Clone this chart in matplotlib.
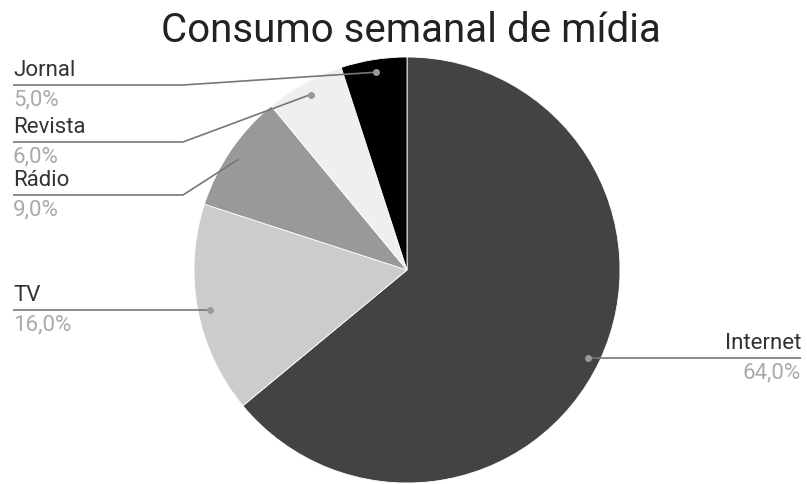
import numpy as np
import matplotlib.pyplot as plt

plt.rcParams['font.family'] = ['Roboto', 'DejaVu Sans']

labels = ["Internet", "TV", "Rádio", "Revista", "Jornal"]
values = [64.0, 16.0, 9.0, 6.0, 5.0]
colors = ["#434343", "#cccccc", "#999999", "#efefef", "#000000"]
title = "Consumo semanal de mídia"

W, H = 807, 484
fig = plt.figure(figsize=(W / 100, H / 100), dpi=100)
ax = fig.add_axes([0, 0, 1, 1])

cx, cy, R = 407, H - 270, 213
wedges, _ = ax.pie(values, colors=colors, startangle=90, counterclock=False,
                   center=(cx, cy), radius=R, frame=True,
                   wedgeprops=dict(edgecolor='white', linewidth=0.6))
ax.set_xlim(0, W)
ax.set_ylim(0, H)
ax.set_aspect('equal')
ax.axis('off')

# label anchor: x of text edge, y of underline (pixel, y down)
label_rows = {"Internet": (801, 358), "TV": (13, 310), "Rádio": (13, 195),
              "Revista": (13, 142), "Jornal": (13, 85)}
elbow_x = 183

total = sum(values)
cum = 0
for lab, v in zip(labels, values):
    mid = 90 - (cum + v / 2) / total * 360
    cum += v
    a = np.deg2rad(mid)
    dx, dy = cx + 0.94 * R * np.cos(a), cy + 0.94 * R * np.sin(a)
    tx, ty = label_rows[lab]
    ty = H - ty
    if lab in ("Internet", "TV"):
        dy = ty
        xs, ys = [dx, tx], [ty, ty]
    else:
        xs, ys = [dx, elbow_x, tx], [dy, ty, ty]
    ax.plot(xs, ys, color='#777777', lw=1.2, solid_capstyle='butt', zorder=3)
    ax.plot([dx], [dy], 'o', color='#999999', ms=4, zorder=4)
    ha = 'right' if tx > cx else 'left'
    ax.text(tx, ty + 9, lab, ha=ha, va='baseline', fontsize=16, color='#333333')
    ax.text(tx, ty - 4, f"{v:.1f}%".replace('.', ','), ha=ha, va='top',
            fontsize=16, color='#aaaaaa')

ax.text(411, H - 30, title, ha='center', va='center', fontsize=29, color='#222222')

fig.savefig('out.png', dpi=100)
